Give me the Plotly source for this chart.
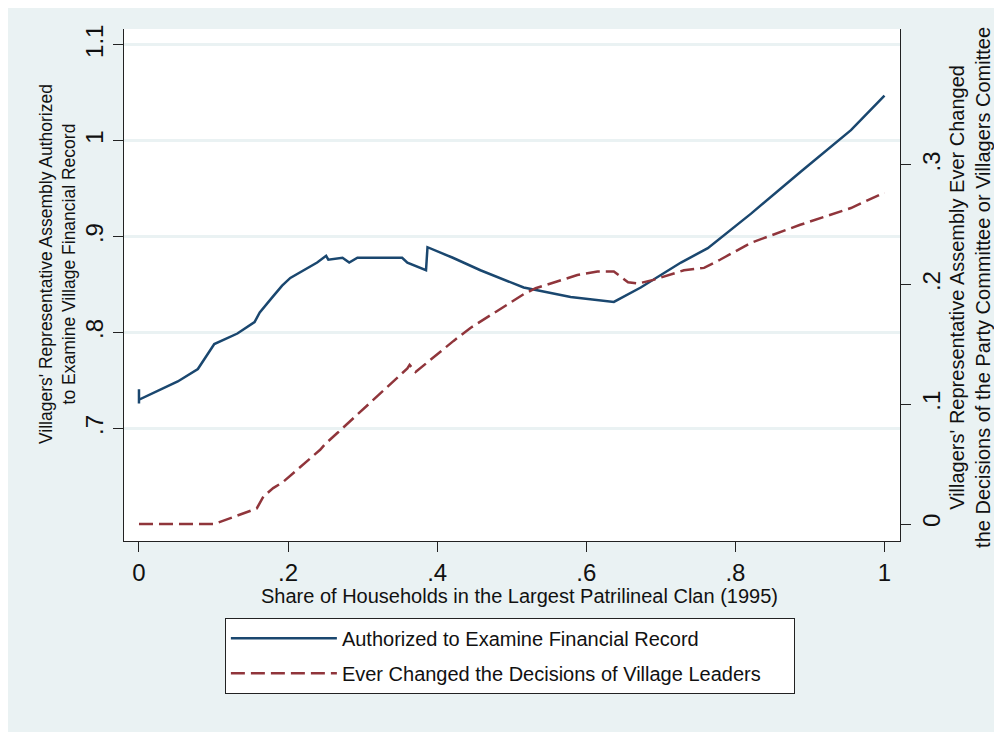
import plotly.graph_objects as go

# Share of households in the largest clan (x) and the two fitted curves
auth_x = [0, 0, 0, 0.052, 0.079, 0.101, 0.132, 0.155, 0.162, 0.179, 0.192, 0.203,
          0.239, 0.251, 0.254, 0.273, 0.282, 0.293, 0.353, 0.360, 0.385, 0.387,
          0.421, 0.458, 0.516, 0.579, 0.637, 0.673, 0.727, 0.763, 0.821, 0.888,
          0.955, 1.0]
auth_y = [0.741, 0.726, 0.730, 0.749, 0.762, 0.788, 0.799, 0.811, 0.821, 0.837,
          0.849, 0.857, 0.873, 0.880, 0.876, 0.878, 0.873, 0.878, 0.878, 0.873,
          0.865, 0.889, 0.878, 0.865, 0.847, 0.837, 0.832, 0.847, 0.873, 0.888,
          0.924, 0.968, 1.011, 1.047]

chg_x = [0, 0.101, 0.158, 0.167, 0.180, 0.193, 0.243, 0.250, 0.266, 0.360, 0.363,
         0.371, 0.422, 0.445, 0.516, 0.532, 0.588, 0.615, 0.637, 0.656, 0.670,
         0.690, 0.731, 0.758, 0.780, 0.821, 0.887, 0.955, 1.0]
chg_y = [0, 0, 0.013, 0.023, 0.030, 0.035, 0.062, 0.067, 0.076, 0.130, 0.133,
         0.127, 0.153, 0.164, 0.192, 0.197, 0.208, 0.211, 0.211, 0.202, 0.201,
         0.204, 0.212, 0.214, 0.221, 0.235, 0.250, 0.264, 0.277]

x_ticks = [0, 0.2, 0.4, 0.6, 0.8, 1]
x_labels = ["0", ".2", ".4", ".6", ".8", "1"]
left_ticks = [0.7, 0.8, 0.9, 1.0, 1.1]
left_labels = [".7", ".8", ".9", "1", "1.1"]
right_ticks = [0, 0.1, 0.2, 0.3]
right_labels = ["0", ".1", ".2", ".3"]

FONT = "Liberation Sans, Arial, sans-serif"
BLUE = "#1a476f"
RED = "#90353b"
BG = "#eaf2f3"
PAD = "\u00a0" * 5  # a bit of room at the right of the legend box

fig = go.Figure()
fig.add_trace(go.Scatter(
    x=auth_x, y=auth_y, mode="lines", name="Authorized to Examine Financial Record" + PAD,
    line=dict(color=BLUE, width=2.5), legendgroup="a",
))
fig.add_trace(go.Scatter(
    x=chg_x, y=chg_y, mode="lines", name="Ever Changed the Decisions of Village Leaders" + PAD,
    line=dict(color=RED, width=2.5, dash="14px,6px"), yaxis="y2", legendgroup="b",
))

axis_common = dict(
    showline=True, linecolor="#222", linewidth=1,
    ticks="outside", ticklen=10, tickcolor="#222", tickwidth=1,
    tickfont=dict(size=24, color="#111"), zeroline=False,
)

fig.update_layout(
    width=1002, height=732,
    margin=dict(l=116, r=110, t=21, b=199),
    paper_bgcolor=BG, plot_bgcolor="white",
    font=dict(family=FONT, color="#111"),
    xaxis=dict(range=[-0.0201, 1.0208], tickvals=x_ticks, ticktext=x_labels,
               showgrid=False, **axis_common),
    yaxis=dict(range=[0.5827, 1.1165], tickvals=left_ticks, ticktext=left_labels,
               tickangle=-90, showgrid=True, gridcolor=BG, gridwidth=3,
               **axis_common),
    yaxis2=dict(range=[-0.0142, 0.4136], tickvals=right_ticks, ticktext=right_labels,
                tickangle=-90, overlaying="y", side="right", showgrid=False,
                **axis_common),
    legend=dict(x=0.130, y=-0.150, xanchor="left", yanchor="top",
                bgcolor="white", bordercolor="#222", borderwidth=1,
                font=dict(size=20, color="#111"), itemwidth=106,
                tracegroupgap=6),
    annotations=[
        dict(text="Share of Households in the Largest Patrilineal Clan (1995)",
             xref="paper", yref="paper", x=0.510, y=-0.107, xanchor="center",
             yanchor="middle", showarrow=False, font=dict(size=20)),
        dict(text="Villagers' Representative Assembly Authorized<br>to Examine Village Financial Record",
             xref="paper", yref="paper", x=-0.0863, y=0.541, textangle=-90,
             xanchor="center", yanchor="middle", showarrow=False, font=dict(size=17.5)),
        dict(text="Villagers' Representative Assembly Ever Changed<br>the Decisions of the Party Committee or Villagers Comittee",
             xref="paper", yref="paper", x=1.090, y=0.496, textangle=-90,
             xanchor="center", yanchor="middle", showarrow=False, font=dict(size=20)),
    ],
)

fig.write_html("out.html")
